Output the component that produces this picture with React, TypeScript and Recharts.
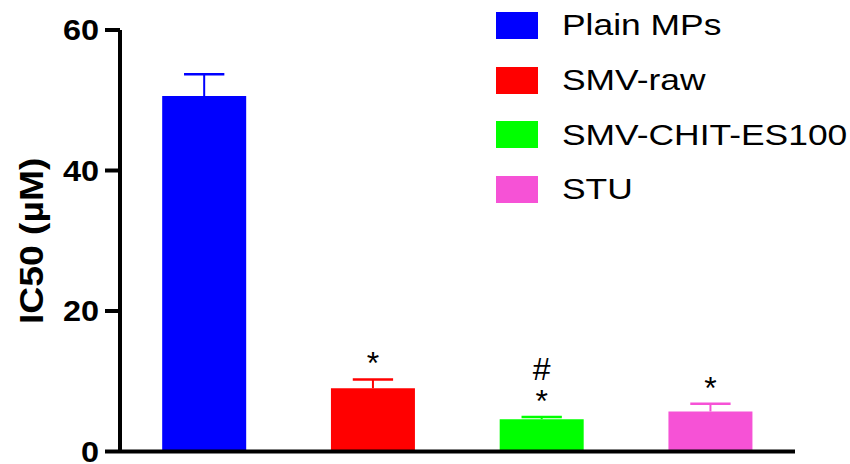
import { BarChart, Bar, XAxis, YAxis, Cell, LabelList, Legend } from 'recharts';

const FONT = '"Liberation Sans", Arial, sans-serif';

const GROUPS = ['Plain MPs', 'SMV-raw', 'SMV-CHIT-ES100', 'STU'];
const IC50 = [50.6, 9.0, 4.6, 5.7];
const SEM = [3.1, 1.25, 0.3, 1.1];
const STAR = ['', '*', '*', '*'];
const HASH = ['', '', '#', ''];
const Y_TICKS = [0, 20, 40, 60];
const COLORS = ['#0000ff', '#ff0000', '#00ff00', '#f652d6'];

const data = GROUPS.map((name, i) => ({
  name,
  ic50: IC50[i],
  errRange: [IC50[i], IC50[i] + SEM[i]],
}));

// upper half of the error bar, drawn as a range bar on an overlapping hidden axis
const ErrorShape = (props: any) => {
  const { x, y, width, height, fill } = props;
  const cx = x + width / 2;
  const half = width * 0.24;
  return (
    <g stroke={fill}>
      <line x1={cx} y1={y} x2={cx} y2={y + height} strokeWidth={2} />
      <line x1={cx - half} y1={y} x2={cx + half} y2={y} strokeWidth={2.5} />
    </g>
  );
};

const Marks = (props: any) => {
  const { x, y, width, index } = props;
  const cx = x + width / 2;
  return (
    <g fontFamily={FONT} fontSize={32} fill="#000" textAnchor="middle">
      {HASH[index] ? <text x={cx} y={y - 37}>{HASH[index]}</text> : null}
      {STAR[index] ? <text x={cx} y={y - 5}>{STAR[index]}</text> : null}
    </g>
  );
};

// the original text is a bit wider than Arial, stretch it along the reading direction
const YTick = (props: any) => {
  const { x, y, payload } = props;
  return (
    <text
      transform={`translate(${x},${y}) scale(1.08,1)`}
      textAnchor="end"
      dy="0.34em"
      fontSize={30}
      fontWeight="bold"
      fontFamily={FONT}
      fill="#000"
    >
      {payload.value}
    </text>
  );
};

const YLabel = (props: any) => {
  const { viewBox } = props;
  const cy = viewBox.y + viewBox.height / 2;
  return (
    <text
      transform={`translate(31,${cy}) rotate(-90) scale(1.13,1)`}
      textAnchor="middle"
      dy="0.36em"
      fontSize={33}
      fontWeight="bold"
      fontFamily={FONT}
      fill="#000"
    >
      IC50 (µM)
    </text>
  );
};

const LegendBox = () => (
  <div style={{ fontFamily: FONT }}>
    {GROUPS.map((g, i) => (
      <div key={g} style={{ display: 'flex', alignItems: 'center', height: 54.7 }}>
        <span style={{ display: 'inline-block', width: 42, height: 27, background: COLORS[i], marginRight: 24 }} />
        <span
          style={{
            fontSize: 30,
            color: '#000',
            whiteSpace: 'nowrap',
            display: 'inline-block',
            transform: 'scaleX(1.18)',
            transformOrigin: 'left center',
          }}
        >
          {g}
        </span>
      </div>
    ))}
  </div>
);

export default function App() {
  return (
    <div style={{ position: 'absolute', left: 0, top: 0 }}>
      <BarChart
        width={850}
        height={464}
        data={data}
        margin={{ top: 30, right: 55, bottom: 0, left: 0 }}
        barCategoryGap="25%"
      >
        <XAxis dataKey="name" tick={false} tickLine={false} height={12.5} axisLine={{ stroke: '#000', strokeWidth: 4 }} />
        <XAxis xAxisId="err" dataKey="name" hide />
        <YAxis
          width={120}
          domain={[0, 60]}
          ticks={Y_TICKS}
          interval={0}
          tickSize={15}
          tickMargin={6}
          axisLine={{ stroke: '#000', strokeWidth: 4 }}
          tickLine={{ stroke: '#000', strokeWidth: 4 }}
          tick={<YTick />}
          label={<YLabel />}
        />
        <Bar dataKey="ic50" isAnimationActive={false}>
          {data.map((_, i) => (
            <Cell key={`bar-${i}`} fill={COLORS[i]} />
          ))}
        </Bar>
        <Bar dataKey="errRange" xAxisId="err" shape={<ErrorShape />} isAnimationActive={false}>
          {data.map((_, i) => (
            <Cell key={`err-${i}`} fill={COLORS[i]} />
          ))}
          <LabelList content={<Marks />} />
        </Bar>
        <Legend
          layout="vertical"
          align="center"
          verticalAlign="middle"
          content={<LegendBox />}
          wrapperStyle={{ top: -2, left: 496, width: 350 }}
        />
      </BarChart>
    </div>
  );
}
